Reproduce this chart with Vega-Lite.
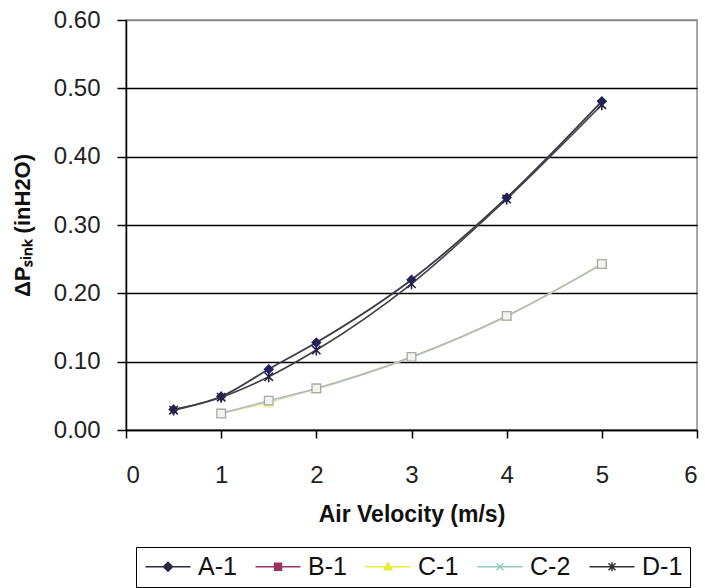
{
  "$schema": "https://vega.github.io/schema/vega-lite/v6.json",
  "autosize": {"type": "none"},
  "padding": {"left": 126, "top": 20, "right": 8, "bottom": 158},
  "width": 571,
  "height": 410,
  "background": "white",
  "config": {
    "font": "Liberation Sans",
    "view": {"stroke": "#8a8a8a", "strokeWidth": 1.5},
    "axis": {
      "labelFont": "Liberation Sans",
      "titleFont": "Liberation Sans",
      "labelColor": "#222222",
      "titleColor": "#111111",
      "domainColor": "black",
      "domainWidth": 1.5,
      "tickColor": "black",
      "tickWidth": 1.5,
      "tickSize": 8,
      "labelFontSize": 24,
      "titleFontSize": 23,
      "titleFontWeight": "bold"
    },
    "legend": {
      "labelFont": "Liberation Sans"
    }
  },
  "data": {
    "values": [
      {"series": "A-1", "velocity": 0.5, "dp": 0.030},
      {"series": "A-1", "velocity": 1.0, "dp": 0.049},
      {"series": "A-1", "velocity": 1.5, "dp": 0.089},
      {"series": "A-1", "velocity": 2.0, "dp": 0.128},
      {"series": "A-1", "velocity": 3.0, "dp": 0.220},
      {"series": "A-1", "velocity": 4.0, "dp": 0.340},
      {"series": "A-1", "velocity": 5.0, "dp": 0.481},
      {"series": "B-1", "velocity": 1.0, "dp": 0.024},
      {"series": "B-1", "velocity": 1.5, "dp": 0.043},
      {"series": "B-1", "velocity": 2.0, "dp": 0.061},
      {"series": "B-1", "velocity": 3.0, "dp": 0.107},
      {"series": "B-1", "velocity": 4.0, "dp": 0.167},
      {"series": "B-1", "velocity": 5.0, "dp": 0.243},
      {"series": "C-1", "velocity": 1.0, "dp": 0.025},
      {"series": "C-1", "velocity": 1.5, "dp": 0.040},
      {"series": "C-1", "velocity": 2.0, "dp": 0.061},
      {"series": "C-1", "velocity": 3.0, "dp": 0.107},
      {"series": "C-1", "velocity": 4.0, "dp": 0.167},
      {"series": "C-1", "velocity": 5.0, "dp": 0.243},
      {"series": "C-2", "velocity": 1.0, "dp": 0.025},
      {"series": "C-2", "velocity": 1.5, "dp": 0.042},
      {"series": "C-2", "velocity": 2.0, "dp": 0.060},
      {"series": "C-2", "velocity": 3.0, "dp": 0.106},
      {"series": "C-2", "velocity": 4.0, "dp": 0.166},
      {"series": "C-2", "velocity": 5.0, "dp": 0.242},
      {"series": "D-1", "velocity": 0.5, "dp": 0.029},
      {"series": "D-1", "velocity": 1.0, "dp": 0.048},
      {"series": "D-1", "velocity": 1.5, "dp": 0.078},
      {"series": "D-1", "velocity": 2.0, "dp": 0.117},
      {"series": "D-1", "velocity": 3.0, "dp": 0.214},
      {"series": "D-1", "velocity": 4.0, "dp": 0.338},
      {"series": "D-1", "velocity": 5.0, "dp": 0.476}
    ]
  },
  "encoding": {
    "x": {
      "field": "velocity",
      "type": "quantitative",
      "scale": {"domain": [0, 6], "nice": false},
      "axis": {
        "title": "Air Velocity (m/s)",
        "values": [0, 1, 2, 3, 4, 5, 6],
        "format": "d",
        "grid": false,
        "labelPadding": 25,
        "titleY": 84,
        "titleBaseline": "middle"
      }
    },
    "y": {
      "field": "dp",
      "type": "quantitative",
      "scale": {"domain": [0, 0.6], "nice": false},
      "axis": {
        "title": "ΔPₛᵢₙₖ  (inH2O)",
        "values": [0, 0.1, 0.2, 0.3, 0.4, 0.5, 0.6],
        "format": ".2f",
        "grid": true,
        "gridColor": {"condition": {"test": "datum.value > 0.59", "value": "#8a8a8a"}, "value": "black"},
        "gridWidth": 1.4,
        "gridOpacity": 1,
        "tickSize": 9,
        "labelPadding": 17,
        "titleFontSize": 22,
        "titleAngle": 270,
        "titleX": -104,
        "titleY": 205,
        "titleAlign": "center",
        "titleBaseline": "middle"
      }
    }
  },
  "layer": [
    {
      "transform": [{"filter": "datum.series === 'C-1'"}],
      "mark": {"type": "line", "interpolate": "monotone", "color": "#e8ee9a", "strokeWidth": 1.5,
               "point": {"shape": "triangle-up", "filled": true, "color": "#eef3a8", "size": 140}}
    },
    {
      "transform": [{"filter": "datum.series === 'C-2'"}],
      "mark": {"type": "line", "interpolate": "monotone", "color": "#c2d6cc", "strokeWidth": 1.5,
               "point": {"shape": "cross", "filled": false, "color": "#bcd4c8", "size": 60, "strokeWidth": 1}}
    },
    {
      "transform": [{"filter": "datum.series === 'B-1'"}],
      "mark": {"type": "line", "interpolate": "monotone", "color": "#b4b4b4", "strokeWidth": 1.3,
               "point": {"shape": "square", "filled": true, "fill": "#f2f2ee", "stroke": "#a8a8a8", "strokeWidth": 1.3, "size": 75}}
    },
    {
      "transform": [{"filter": "datum.series === 'A-1'"}],
      "mark": {"type": "line", "interpolate": "monotone", "color": "#3a3a48", "strokeWidth": 1.8,
               "point": {"shape": "diamond", "filled": true, "color": "#20205e", "size": 110}}
    },
    {
      "transform": [{"filter": "datum.series === 'D-1'"}],
      "mark": {"type": "line", "interpolate": "monotone", "color": "#404040", "strokeWidth": 1.6,
               "point": {"shape": "M-1,-1L1,1M-1,1L1,-1M0,-1.3V1.3", "filled": false, "stroke": "#22224a", "strokeWidth": 1.6, "size": 70}}
    },
    {
      "transform": [{"filter": "datum.series === 'none'"}],
      "mark": {"type": "point", "opacity": 1, "strokeWidth": 1.5},
      "encoding": {
        "fill": {
          "field": "series",
          "type": "nominal",
          "scale": {
            "domain": ["A-1", "B-1", "C-1", "C-2", "D-1"],
            "range": ["#22224f", "#993366", "#e4ee3a", "#8ccbbb", "#303030"]
          },
          "legend": {
            "title": null,
            "orient": "none",
            "legendX": 10,
            "legendY": 527,
            "direction": "horizontal",
            "columns": 5,
            "strokeColor": "black",
            "padding": 7,
            "labelFontSize": 25,
            "labelColor": "#111111",
            "labelOffset": 30,
            "columnPadding": 15,
            "symbolSize": 400,
            "symbolStrokeWidth": 1.5,
            "symbolOpacity": 1,
            "labelLimit": 100
          }
        },
        "stroke": {
          "field": "series",
          "type": "nominal",
          "scale": {
            "domain": ["A-1", "B-1", "C-1", "C-2", "D-1"],
            "range": ["#2a2a3a", "#993366", "#e4ee3a", "#8ccbbb", "#303030"]
          }
        },
        "shape": {
          "field": "series",
          "type": "nominal",
          "scale": {
            "domain": ["A-1", "B-1", "C-1", "C-2", "D-1"],
            "range": [
              "M-1,0H3.5M1.25,-0.45L1.7,0L1.25,0.45L0.8,0Z",
              "M-1,0H3.5M0.9,-0.35H1.6V0.35H0.9Z",
              "M-1,0H3.5M1.25,-0.4L1.65,0.3H0.85Z",
              "M-1,0H3.5M0.9,-0.35L1.6,0.35M0.9,0.35L1.6,-0.35",
              "M-1,0H3.5M0.9,-0.35L1.6,0.35M0.9,0.35L1.6,-0.35M1.25,-0.45V0.45"
            ]
          }
        }
      }
    }
  ]
}
